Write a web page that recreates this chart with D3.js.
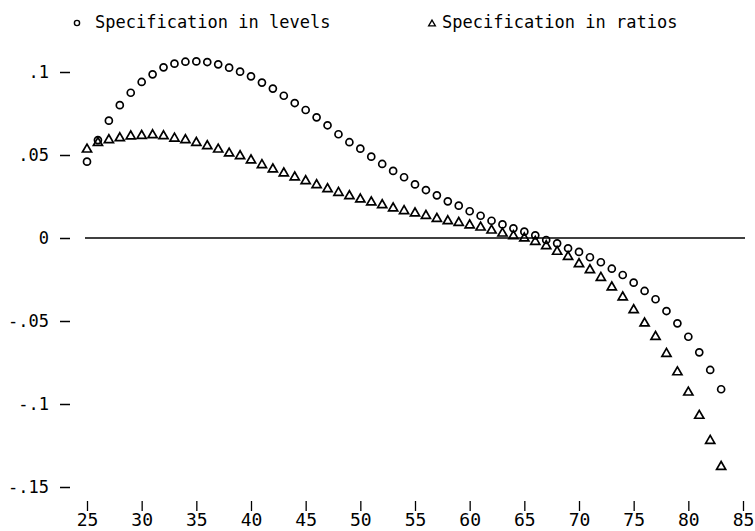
<!DOCTYPE html>
<html>
<head>
<meta charset="utf-8">
<script src="https://cdn.jsdelivr.net/npm/d3@7.9.0/dist/d3.min.js"></script>
<style>
  body { margin: 0; background: #fff; }
  svg text { font-family: "DejaVu Sans Mono", monospace; fill: #000; }
</style>
</head>
<body>
<svg id="chart" width="755" height="531"></svg>
<script>
// ages on the x axis
const ages = [25, 26, 27, 28, 29, 30, 31, 32, 33, 34, 35, 36, 37, 38, 39, 40,
  41, 42, 43, 44, 45, 46, 47, 48, 49, 50, 51, 52, 53, 54, 55, 56, 57, 58, 59,
  60, 61, 62, 63, 64, 65, 66, 67, 68, 69, 70, 71, 72, 73, 74, 75, 76, 77, 78,
  79, 80, 81, 82, 83];

// specification in levels (circles)
const levels = [0.046, 0.059, 0.0707, 0.080, 0.0875, 0.094, 0.0986, 0.1028,
  0.105, 0.1062, 0.1064, 0.106, 0.1046, 0.1026, 0.1002, 0.0974, 0.0936, 0.090,
  0.0857, 0.0813, 0.0771, 0.0727, 0.0679, 0.0625, 0.0577, 0.0538, 0.049,
  0.0446, 0.0404, 0.0366, 0.0323, 0.0289, 0.0257, 0.0221, 0.0195, 0.0161,
  0.0134, 0.0104, 0.0082, 0.0058, 0.0038, 0.0016, -0.0012, -0.0032, -0.0062,
  -0.0084, -0.0116, -0.0146, -0.0185, -0.0223, -0.0269, -0.0319, -0.0369,
  -0.044, -0.0514, -0.0595, -0.0689, -0.0795, -0.0911];

// specification in ratios (triangles)
const ratios = [0.0534, 0.0574, 0.059, 0.0602, 0.0613, 0.0616, 0.062, 0.0614,
  0.060, 0.059, 0.0574, 0.0554, 0.0534, 0.051, 0.0494, 0.0468, 0.044, 0.0414,
  0.039, 0.0366, 0.0343, 0.0319, 0.0295, 0.0273, 0.0253, 0.0233, 0.0215,
  0.0199, 0.0179, 0.0163, 0.0149, 0.0134, 0.0116, 0.0102, 0.0092, 0.0077,
  0.0064, 0.0046, 0.0028, 0.0012, -0.0002, -0.0022, -0.0048, -0.0082, -0.0113,
  -0.0157, -0.0193, -0.0239, -0.0297, -0.0357, -0.0434, -0.0514, -0.0595,
  -0.0697, -0.0808, -0.093, -0.107, -0.1221, -0.1378];

const xTicks = [25, 30, 35, 40, 45, 50, 55, 60, 65, 70, 75, 80, 85];
const yTicks = [0.1, 0.05, 0, -0.05, -0.1, -0.15];
const yTickLabels = [".1", ".05", "0", "-.05", "-.1", "-.15"];

const legendLabels = ["Specification in levels", "Specification in ratios"];

const svg = d3.select("#chart");

const x = d3.scaleLinear().domain([25, 85]).range([87, 743]);
const y = d3.scaleLinear().domain([-0.15, 0.1]).range([487, 72]);

// y axis: short dashes with labels to the left
const yAxis = d3.axisLeft(y)
  .tickValues(yTicks)
  .tickSize(10)
  .tickPadding(11)
  .tickFormat((d, i) => yTickLabels[i]);

svg.append("g")
  .attr("transform", "translate(70,0)")
  .call(yAxis)
  .call(g => g.select(".domain").remove())
  .call(g => g.selectAll("line").attr("stroke", "#000").attr("stroke-width", 1.5))
  .call(g => g.selectAll("text").attr("font-size", 17).attr("font-family", "DejaVu Sans Mono"));

// x axis: small ticks with labels underneath
const xAxis = d3.axisBottom(x)
  .tickValues(xTicks)
  .tickSize(10)
  .tickPadding(2)
  .tickFormat(d3.format("d"));

svg.append("g")
  .attr("transform", "translate(0,501)")
  .call(xAxis)
  .call(g => g.select(".domain").remove())
  .call(g => g.selectAll("line").attr("stroke", "#000").attr("stroke-width", 1.3))
  .call(g => g.selectAll("text").attr("font-size", 18).attr("font-family", "DejaVu Sans Mono"));

// zero reference line
svg.append("line")
  .attr("x1", 85).attr("x2", 745)
  .attr("y1", y(0)).attr("y2", y(0))
  .attr("stroke", "#000")
  .attr("stroke-width", 1.5);

// ratios as triangles
const tri = d3.symbol().type(d3.symbolTriangle).size(36);
svg.append("g")
  .selectAll("path")
  .data(ages)
  .join("path")
  .attr("d", tri)
  .attr("transform", (d, i) => `translate(${x(d)},${y(ratios[i])})`)
  .attr("fill", "none")
  .attr("stroke", "#000")
  .attr("stroke-width", 1.7);

// levels as circles
svg.append("g")
  .selectAll("circle")
  .data(ages)
  .join("circle")
  .attr("cx", d => x(d))
  .attr("cy", (d, i) => y(levels[i]))
  .attr("r", 3.5)
  .attr("fill", "none")
  .attr("stroke", "#000")
  .attr("stroke-width", 1.7);

// legend
const legend = svg.append("g");
legend.append("circle")
  .attr("cx", 77).attr("cy", 23).attr("r", 2.6)
  .attr("fill", "none").attr("stroke", "#000").attr("stroke-width", 1.4);
legend.append("text")
  .attr("x", 95).attr("y", 28)
  .attr("font-size", 17)
  .text(legendLabels[0]);
legend.append("path")
  .attr("d", d3.symbol().type(d3.symbolTriangle).size(20)())
  .attr("transform", "translate(432,24)")
  .attr("fill", "none").attr("stroke", "#000").attr("stroke-width", 1.3);
legend.append("text")
  .attr("x", 442).attr("y", 28)
  .attr("font-size", 17)
  .text(legendLabels[1]);
</script>
</body>
</html>
